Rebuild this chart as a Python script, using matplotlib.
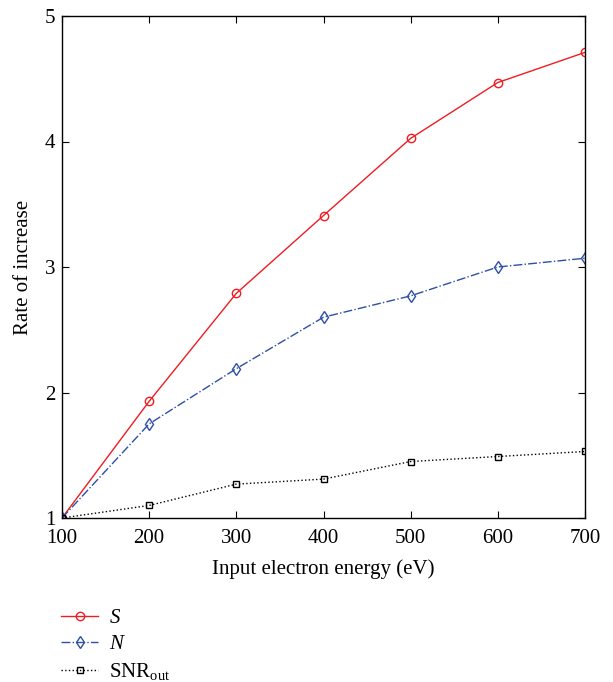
import matplotlib
matplotlib.use("Agg")
import matplotlib.pyplot as plt

energy = [100, 200, 300, 400, 500, 600, 700]
s_vals = [1.0, 1.93, 2.79, 3.41, 4.025, 4.47, 4.71]
n_vals = [1.0, 1.75, 2.19, 2.60, 2.77, 3.00, 3.07]
snr_vals = [1.0, 1.10, 1.27, 1.31, 1.45, 1.49, 1.53]
xticks = [100, 200, 300, 400, 500, 600, 700]
yticks = [1, 2, 3, 4, 5]

plt.rcParams['font.family'] = ['Liberation Serif', 'DejaVu Serif']
plt.rcParams['mathtext.fontset'] = 'custom'
plt.rcParams['mathtext.rm'] = 'Liberation Serif'
plt.rcParams['mathtext.it'] = 'Liberation Serif:italic'

W, H = 613, 682
fig = plt.figure(figsize=(W/100, H/100), dpi=100)
L, R, T, B = 62, 585, 16, 518
ax = fig.add_axes([L/W, 1 - B/H, (R-L)/W, (B-T)/H])

l1, = ax.plot(energy, s_vals, '-', color='#ee1c24', lw=1.0, marker='o', ms=6,
              mfc='none', mec='#ee1c24', mew=1.0, label='$S$')
l2, = ax.plot(energy, n_vals, '-.', color='#2e4fa6', lw=1.0, marker='d', ms=6,
              mfc='none', mec='#2e4fa6', mew=1.0, label='$N$')
l3, = ax.plot(energy, snr_vals, ':', color='black', lw=1.0, marker='s', ms=4.5,
              mfc='none', mec='black', mew=1.0, label='SNR$_{\\mathrm{out}}$')

ax.set_xlim(100, 700)
ax.set_ylim(1, 5)
ax.set_xticks(xticks)
ax.set_yticks(yticks)
ax.tick_params(direction='in', top=True, right=True, labelsize=15, length=5, width=0.8)
ax.tick_params(axis='y', pad=5)
ax.tick_params(axis='x', pad=8)
for sp in ax.spines.values():
    sp.set_linewidth(1.0)
ax.set_xlabel('Input electron energy (eV)', fontsize=15, labelpad=8)
ax.set_ylabel('Rate of increase', fontsize=15, labelpad=8)

fig.legend(handles=[l1, l2, l3], loc='upper left', bbox_to_anchor=(53/W, 1 - 600/H),
           frameon=False, fontsize=15, handlelength=1.75, handletextpad=0.55,
           labelspacing=0.32, borderaxespad=0)

fig.savefig('out.png', dpi=100)
